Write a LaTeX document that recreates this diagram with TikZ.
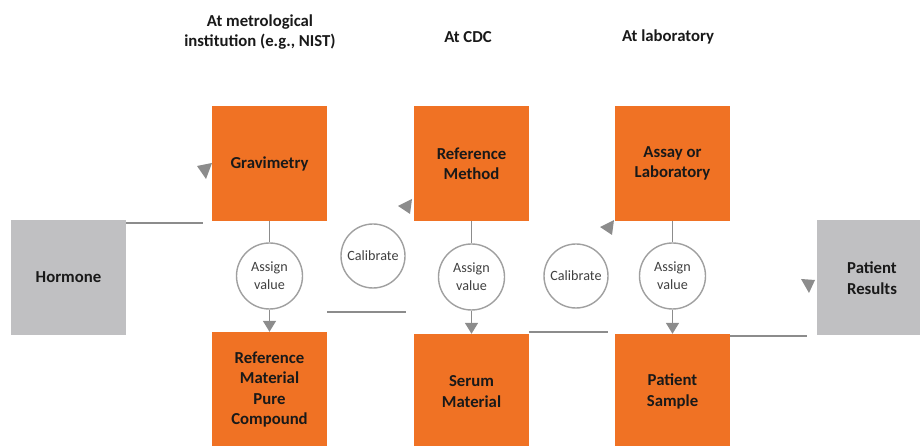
\documentclass[tikz,border=0pt]{standalone}
\usepackage{fontspec}
\setmainfont{Carlito}
\usetikzlibrary{arrows.meta}
\definecolor{boxorange}{RGB}{240,114,36}
\definecolor{boxgray}{RGB}{192,192,194}
\definecolor{linegray}{RGB}{140,140,140}
\definecolor{circgray}{RGB}{160,160,160}
\definecolor{circtext}{RGB}{64,64,64}
\tikzset{
  obox/.style={fill=boxorange, minimum width=115bp, minimum height=115bp, inner sep=0pt,
    align=center, font=\fontsize{16.8}{20.5}\selectfont\bfseries, text=black!90},
  gbox/.style={obox, fill=boxgray},
  circ/.style={circle, draw=circgray, line width=1.4bp, minimum size=66bp, inner sep=0pt,
    align=center, font=\fontsize{14.2}{18}\selectfont, text=circtext, fill=white},
  conn/.style={draw=linegray, line width=1.6bp},
  arr/.style={conn, -{Triangle[width=13bp,length=11bp]}},
  head/.style={align=center, font=\fontsize{16.8}{20.5}\selectfont\bfseries, text=black!90},
  tip/.style={fill=linegray}
}
\begin{document}
\begin{tikzpicture}[x=1bp,y=-1bp]
\useasboundingbox (0,0) rectangle (920,446);
% headers
\node[head] (h1) at (260,32) {At metrological\\institution (e.g., NIST)};
\node[head] (h2) at (468,37) {At CDC};
\node[head] (h3) at (668,37) {At laboratory};
% boxes
\node[gbox] (hormone) at (68.5,277.5) {Hormone};
\node[obox] (grav) at (269.5,163.5) {Gravimetry};
\node[obox] (refmeth) at (471.5,163.5) {Reference\\Method};
\node[obox] (assay) at (672.5,163.5) {Assay or\\Laboratory};
\node[obox] (refmat) at (269.5,389.5) {Reference\\Material\\Pure\\Compound};
\node[obox] (serum) at (471.5,391.5) {Serum\\Material};
\node[obox] (sample) at (672.5,391.5) {Patient\\Sample};
\node[gbox, minimum width=110bp] (results) at (872,278) {Patient\\Results};
% circles
\node[circ] (av1) at (269.5,276) {Assign\\value};
\node[circ] (av2) at (471.5,277) {Assign\\value};
\node[circ] (av3) at (672.5,276) {Assign\\value};
\node[circ, minimum size=64bp] (cal1) at (373,256) {Calibrate};
\node[circ, minimum size=64bp] (cal2) at (576,276) {Calibrate};
% connectors
\draw[conn] (grav.south) -- (av1.north);
\draw[conn] (refmeth.south) -- (av2.north);
\draw[conn] (assay.south) -- (av3.north);
\draw[arr] (av1.south) -- (refmat.north);
\draw[arr] (av2.south) -- (serum.north);
\draw[arr] (av3.south) -- (sample.north);
% loose line segments
\coordinate (e1) at (203,223);
\draw[conn] (hormone.east |- e1) -- (e1);
\coordinate (s2a) at (327,312);
\coordinate (s2b) at (406,312);
\draw[conn] (s2a) -- (s2b);
\coordinate (s3a) at (529,332);
\coordinate (s3b) at (608,332);
\draw[conn] (s3a) -- (s3b);
\coordinate (e4) at (807,336);
\draw[conn] (sample.east |- e4) -- (e4);
% loose arrowheads
\fill[tip] (197,166) -- (212,163) -- (206,179) -- cycle;
\fill[tip] (398,206) -- (412,199) -- (410,214) -- cycle;
\fill[tip] (600,227) -- (614,220) -- (612,235) -- cycle;
\fill[tip] (801,279) -- (815,280) -- (809,293) -- cycle;
\end{tikzpicture}
\end{document}
